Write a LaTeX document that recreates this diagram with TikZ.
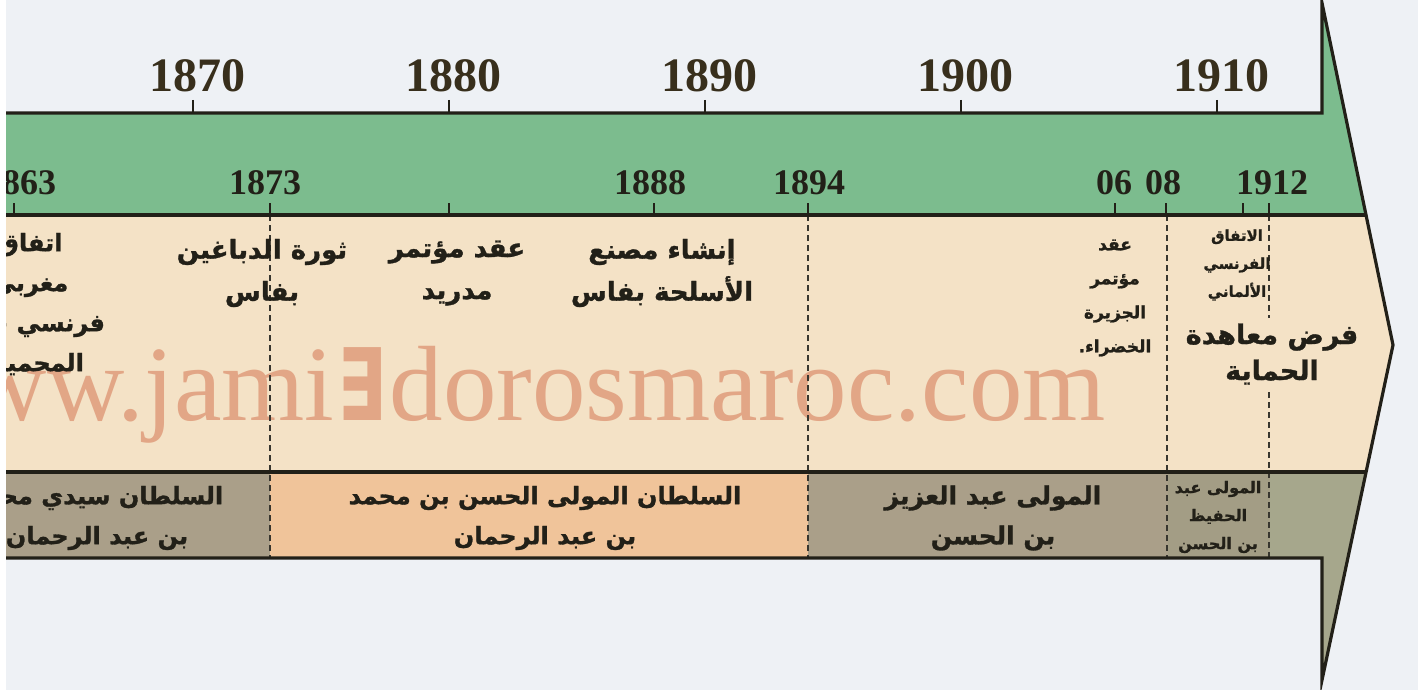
\documentclass[tikz,border=0pt]{standalone}
\usepackage{graphicx}
\usepackage{fontspec}
\setmainfont{Liberation Serif}
\newfontfamily\arfont[Script=Arabic, BoldFeatures={FakeBold=1.2}]{DejaVu Sans}
\newfontfamily\symfont{DejaVu Sans}
\TeXXeTstate=1
\newcommand{\AR}[1]{\beginR #1\endR}
\definecolor{bgc}{RGB}{238,241,245}
\definecolor{greenband}{RGB}{124,188,142}
\definecolor{beige}{RGB}{244,226,198}
\definecolor{peach}{RGB}{240,196,154}
\definecolor{greybrown}{RGB}{170,159,137}
\definecolor{greybrownB}{RGB}{163,157,133}
\definecolor{greengrey}{RGB}{166,167,140}
\definecolor{ink}{RGB}{34,32,24}
\definecolor{yearink}{RGB}{56,47,28}
\definecolor{wmc}{RGB}{226,166,134}
\tikzset{
  outline/.style={draw=ink, line width=3.2pt, line join=miter, miter limit=20},
  sepline/.style={draw=ink, line width=3.2pt},
  tickmark/.style={draw=ink, line width=2pt},
  vdash/.style={draw=ink!90, line width=2.8pt, dash pattern=on 6pt off 4pt},
  bigyear/.style={font=\bfseries\fontsize{48}{48}\selectfont, text=yearink, inner sep=0pt},
  smallyear/.style={font=\bfseries\fontsize{36}{36}\selectfont, text=ink, inner sep=0pt},
  artext/.style={font=\arfont\bfseries\fontsize{26}{42}\selectfont, text=ink, align=center, inner sep=0pt},
  arbottom/.style={font=\arfont\bfseries\fontsize{24}{40}\selectfont, text=ink, align=center, inner sep=0pt},
  arsmall/.style={font=\arfont\bfseries\fontsize{17}{34}\selectfont, text=ink, align=center, inner sep=0pt},
  artiny/.style={font=\arfont\bfseries\fontsize{15}{28}\selectfont, text=ink, align=center, inner sep=0pt},
  wm/.style={font=\fontsize{107}{107}\selectfont, text=wmc, inner sep=0pt},
}
\begin{document}
\begin{tikzpicture}[x=1pt,y=-1pt]
\useasboundingbox (0,0) rectangle (1418,690);
\fill[bgc] (0,0) rectangle (1418,690);
% bands
\fill[greenband] (6,113) -- (1322,113) -- (1322,3) -- (1366.1,215) -- (6,215) -- cycle;
\fill[beige] (6,215) -- (1366.1,215) -- (1393,345) -- (1366.1,472) -- (6,472) -- cycle;
\fill[greybrown] (6,472) rectangle (270,558);
\fill[peach] (270,472) rectangle (808,558);
\fill[greybrown] (808,472) rectangle (1168,558);
\fill[greybrownB] (1168,472) rectangle (1270,558);
\fill[greengrey] (1270,472) -- (1366.1,472) -- (1322,680) -- (1322,558) -- (1270,558) -- cycle;
% watermark
\node[wm, anchor=base east] (wmark) at (1106,420) {www.jami\hspace{3pt}\scalebox{0.72}[1]{\symfont\bfseries\fontsize{100}{100}\selectfont ∃}\hspace{3pt}dorosmaroc.com};
% dashed year lines
\draw[vdash] (270,215) -- (270,558);
\draw[vdash] (808,215) -- (808,558);
\draw[vdash] (1167,215) -- (1167,558);
\draw[vdash] (1269,215) -- (1269,318);
\draw[vdash] (1269,392) -- (1269,558);
% outlines
\draw[sepline] (6,215) -- (1366.1,215);
\draw[sepline, line width=3.6pt] (6,472) -- (1366.1,472);
\draw[outline] (6,113) -- (1322,113) -- (1322,3) -- (1393,345) -- (1322,680) -- (1322,558) -- (6,558);
% top decade ticks and labels
\foreach \xx/\yr in {193/1870, 449/1880, 705/1890, 961/1900, 1217/1910}{
  \draw[tickmark] (\xx,100) -- (\xx,113);
  \node[bigyear] (dec\yr) at (\xx+4,76) {\yr};
}
% event ticks
\foreach \xx in {14,270,449,654,808,1115,1166,1243,1269}{
  \draw[tickmark] (\xx,203) -- (\xx,215);
}
% event year labels
\node[smallyear] (y1863) at (20,183) {1863};
\node[smallyear] (y1873) at (265,183) {1873};
\node[smallyear] (y1888) at (650,183) {1888};
\node[smallyear] (y1894) at (809,183) {1894};
\node[smallyear] (y1906) at (1114,183) {06};
\node[smallyear] (y1908) at (1163,183) {08};
\node[smallyear] (y1912) at (1272,183) {1912};
% events
\node[arbottom] (e1863) at (30,305) {\AR{اتفاق}\\\AR{مغربي}\\\AR{فرنسي حول}\\\AR{المحميين}};
\node[artext] (e1873) at (262,273) {\AR{ثورة الدباغين}\\\AR{بفاس}};
\node[artext] (e1880) at (457,273) {\AR{عقد مؤتمر}\\\AR{مدريد}};
\node[artext] (e1888) at (662,273) {\AR{إنشاء مصنع}\\\AR{الأسلحة بفاس}};
\node[arsmall] (e1906) at (1115,298) {\AR{عقد}\\\AR{مؤتمر}\\\AR{الجزيرة}\\\AR{الخضراء.}};
\node[artiny] (e1911) at (1237,265) {\AR{الاتفاق}\\\AR{الفرنسي}\\\AR{الألماني}};
\node[arbottom, font=\arfont\bfseries\fontsize{27}{36}\selectfont] (e1912) at (1272,354) {\AR{فرض معاهدة}\\\AR{الحماية}};
% reigns
\node[arbottom] (r1) at (97,518) {\AR{السلطان سيدي محمد}\\\AR{بن عبد الرحمان}};
\node[arbottom] (r2) at (545,518) {\AR{السلطان المولى الحسن بن محمد}\\\AR{بن عبد الرحمان}};
\node[arbottom, font=\arfont\bfseries\fontsize{25}{40}\selectfont] (r3) at (993,518) {\AR{المولى عبد العزيز}\\\AR{بن الحسن}};
\node[artiny, font=\arfont\bfseries\fontsize{16}{28}\selectfont] (r4) at (1218,517) {\AR{المولى عبد}\\\AR{الحفيظ}\\\AR{بن الحسن}};
% left edge strip
\fill[white] (0,0) rectangle (6,690);
\end{tikzpicture}
\end{document}
